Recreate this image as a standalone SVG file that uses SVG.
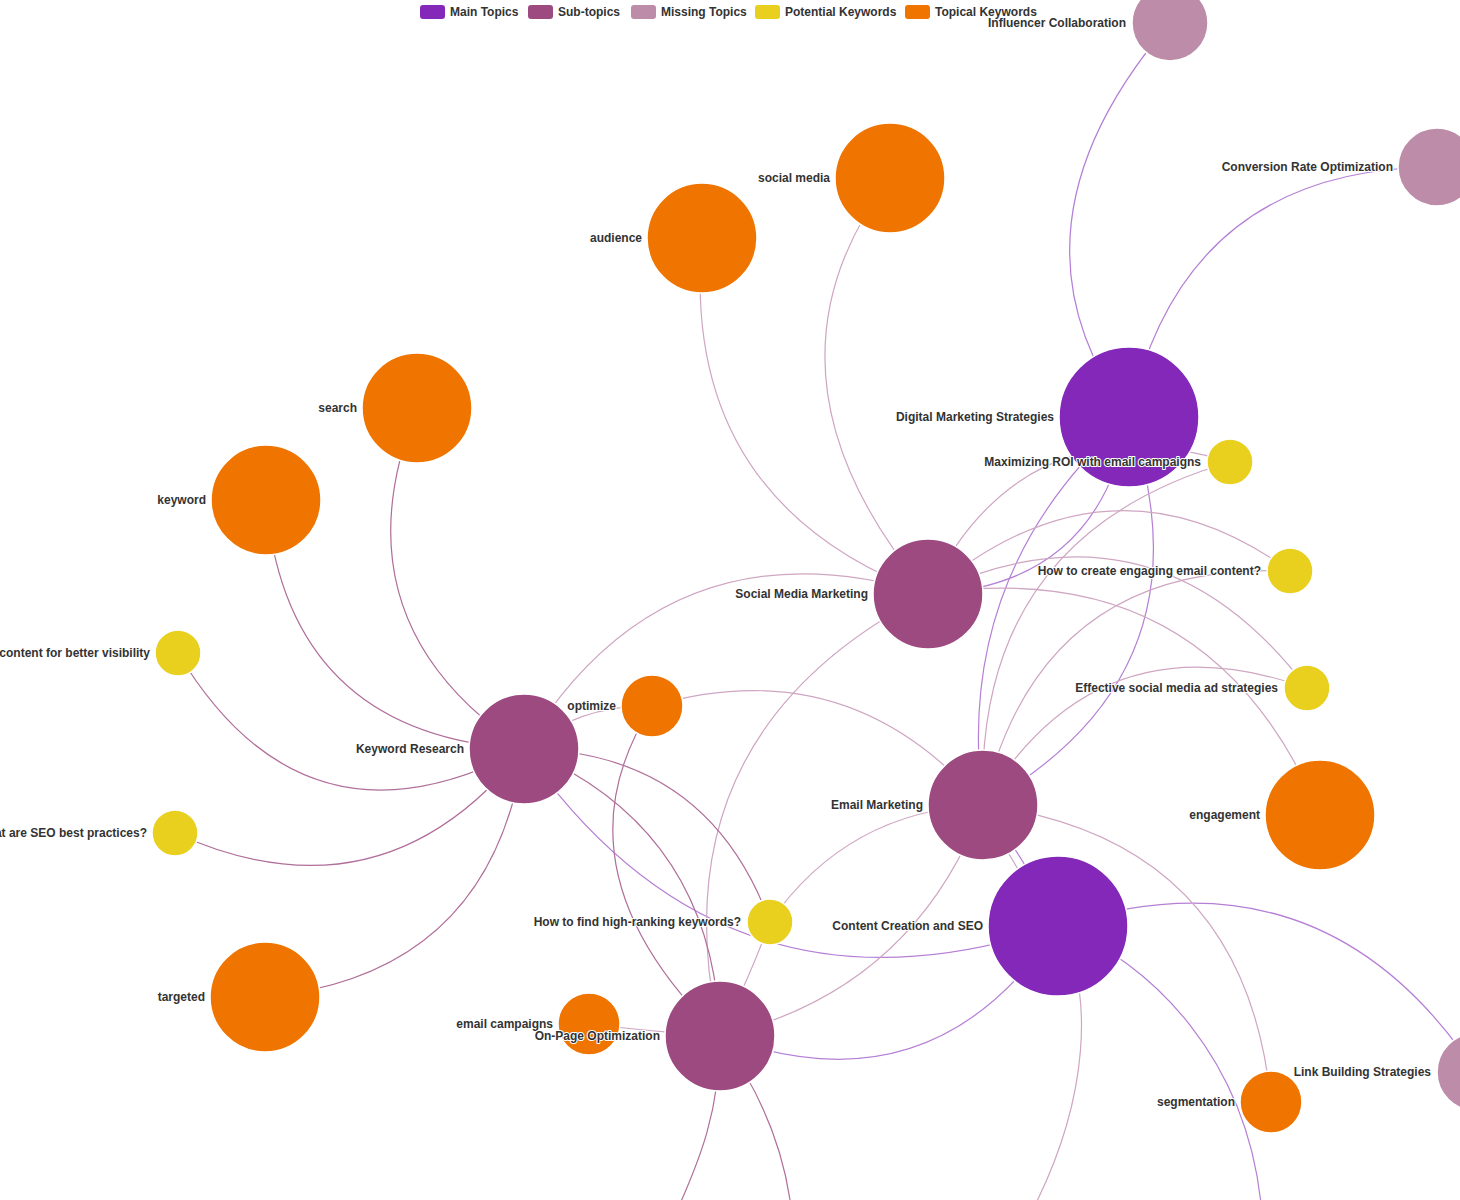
<svg xmlns="http://www.w3.org/2000/svg" width="1460" height="1200" viewBox="0 0 1460 1200">
<style>
.bg{fill:#ffffff}
.lnk path{fill:none;stroke-width:1.2}
.lm{stroke:#B57FD5}
.ls{stroke:#CFA6C2}
.lk{stroke:#B06E9A}
circle{stroke:#ffffff;stroke-width:1.5}
.main{fill:#8428B9}
.sub{fill:#9C4A80}
.miss{fill:#BC8CA8}
.pot{fill:#E9CF1E}
.top{fill:#F07500}
.lbl{font-family:"Liberation Sans",Arial,sans-serif;font-weight:bold;font-size:12px;fill:#333333;text-anchor:end;stroke:#ffffff;stroke-width:2;paint-order:stroke;stroke-linejoin:round}
.leg text{font-family:"Liberation Sans",Arial,sans-serif;font-weight:bold;font-size:12px;fill:#333333}
</style>
<rect class="bg" x="0" y="0" width="1460" height="1200"/>
<g id="connectors" class="lnk">
<path class="lm" d="M1170,23 Q992.5,230 1129,417"/>
<path class="lm" d="M1437,167 Q1183,168 1129,417"/>
<path class="lm" d="M1129,417 Q1099.5,586.5 928,594"/>
<path class="lm" d="M1129,417 Q952,573 983,805"/>
<path class="lm" d="M1129,417 Q1218,673 983,805"/>
<path class="lm" d="M524,749 Q725,1038.5 1058,926"/>
<path class="lm" d="M1058,926 Q933,1115 720,1036"/>
<path class="lm" d="M1058,926 Q1323,841 1476,1072"/>
<path class="lm" d="M983,805 Q1027.5,861.3 1058,926"/>
<path class="ls" d="M983,805 Q1013.7,869.7 1058,926"/>
<path class="lm" d="M1058,926 C1150,960 1250,1060 1262,1215"/>
<path class="ls" d="M1058,926 C1095,990 1090,1100 1030,1215"/>
<path class="ls" d="M928,594 Q743,374 890,178"/>
<path class="ls" d="M928,594 Q679,502 702,238"/>
<path class="ls" d="M928,594 Q666,514.5 524,749"/>
<path class="ls" d="M928,594 Q652,735 720,1036"/>
<path class="ls" d="M928,594 Q1023,400 1230,462"/>
<path class="ls" d="M928,594 Q1109,439.5 1290,571"/>
<path class="ls" d="M928,594 Q1154.5,487 1307,688"/>
<path class="ls" d="M928,594 Q1210,551.5 1320,815"/>
<path class="ls" d="M983,805 Q973.5,536.5 1230,462"/>
<path class="ls" d="M983,805 Q1039.5,560 1290,571"/>
<path class="ls" d="M983,805 Q1097,613.5 1307,688"/>
<path class="ls" d="M983,805 Q848.5,648.5 652,706"/>
<path class="ls" d="M983,805 Q847.5,810.5 770,922"/>
<path class="ls" d="M983,805 Q912.5,991.5 720,1036"/>
<path class="ls" d="M983,805 Q1245,838.5 1271,1102"/>
<path class="ls" d="M524,749 Q580,704.5 652,706"/>
<path class="ls" d="M770,922 Q749,979 720,1036"/>
<path class="ls" d="M589,1024 Q654.5,1032 720,1036"/>
<path class="lk" d="M524,749 Q331.5,621.5 417,408"/>
<path class="lk" d="M524,749 Q287,735.5 266,500"/>
<path class="lk" d="M524,749 Q305,865 178,653"/>
<path class="lk" d="M524,749 Q382.5,927 175,833"/>
<path class="lk" d="M524,749 Q491.5,975 265,997"/>
<path class="lk" d="M524,749 Q707,750.5 770,922"/>
<path class="lk" d="M524,749 Q714,827.5 720,1036"/>
<path class="lk" d="M652,706 Q548,869 720,1036"/>
<path class="lk" d="M720,1036 C720,1110 700,1160 675,1215"/>
<path class="lk" d="M720,1036 C760,1090 785,1150 792,1215"/>
</g>
<g id="node-influencer-collaboration"><circle class="miss" cx="1170" cy="23" r="38"/><text class="lbl" x="1126" y="27">Influencer Collaboration</text></g>
<g id="node-conversion-rate-optimization"><circle class="miss" cx="1437" cy="167" r="39"/><text class="lbl" x="1393" y="171">Conversion Rate Optimization</text></g>
<g id="node-digital-marketing-strategies"><circle class="main" cx="1129" cy="417" r="70"/><text class="lbl" x="1054" y="421">Digital Marketing Strategies</text></g>
<g id="node-maximizing-roi"><circle class="pot" cx="1230" cy="462" r="23"/><text class="lbl" x="1201" y="466">Maximizing ROI with email campaigns</text></g>
<g id="node-engaging-email-content"><circle class="pot" cx="1290" cy="571" r="23"/><text class="lbl" x="1261" y="575">How to create engaging email content?</text></g>
<g id="node-social-media-ad-strategies"><circle class="pot" cx="1307" cy="688" r="23"/><text class="lbl" x="1278" y="692">Effective social media ad strategies</text></g>
<g id="node-social-media"><circle class="top" cx="890" cy="178" r="55"/><text class="lbl" x="830" y="182">social media</text></g>
<g id="node-audience"><circle class="top" cx="702" cy="238" r="55"/><text class="lbl" x="642" y="242">audience</text></g>
<g id="node-social-media-marketing"><circle class="sub" cx="928" cy="594" r="55"/><text class="lbl" x="868" y="598">Social Media Marketing</text></g>
<g id="node-search"><circle class="top" cx="417" cy="408" r="55"/><text class="lbl" x="357" y="412">search</text></g>
<g id="node-keyword"><circle class="top" cx="266" cy="500" r="55"/><text class="lbl" x="206" y="504">keyword</text></g>
<g id="node-better-visibility"><circle class="pot" cx="178" cy="653" r="23"/><text class="lbl" x="150" y="657">content for better visibility</text></g>
<g id="node-seo-best-practices"><circle class="pot" cx="175" cy="833" r="23"/><text class="lbl" x="147" y="837">What are SEO best practices?</text></g>
<g id="node-keyword-research"><circle class="sub" cx="524" cy="749" r="55"/><text class="lbl" x="464" y="753">Keyword Research</text></g>
<g id="node-optimize"><circle class="top" cx="652" cy="706" r="31"/><text class="lbl" x="616" y="710">optimize</text></g>
<g id="node-email-marketing"><circle class="sub" cx="983" cy="805" r="55"/><text class="lbl" x="923" y="809">Email Marketing</text></g>
<g id="node-engagement"><circle class="top" cx="1320" cy="815" r="55"/><text class="lbl" x="1260" y="819">engagement</text></g>
<g id="node-content-creation-seo"><circle class="main" cx="1058" cy="926" r="70"/><text class="lbl" x="983" y="930">Content Creation and SEO</text></g>
<g id="node-high-ranking-keywords"><circle class="pot" cx="770" cy="922" r="23"/><text class="lbl" x="741" y="926">How to find high-ranking keywords?</text></g>
<g id="node-email-campaigns"><circle class="top" cx="589" cy="1024" r="31"/><text class="lbl" x="553" y="1028">email campaigns</text></g>
<g id="node-on-page-optimization"><circle class="sub" cx="720" cy="1036" r="55"/><text class="lbl" x="660" y="1040">On-Page Optimization</text></g>
<g id="node-targeted"><circle class="top" cx="265" cy="997" r="55"/><text class="lbl" x="205" y="1001">targeted</text></g>
<g id="node-segmentation"><circle class="top" cx="1271" cy="1102" r="31"/><text class="lbl" x="1235" y="1106">segmentation</text></g>
<g id="node-link-building-strategies"><circle class="miss" cx="1476" cy="1072" r="39"/><text class="lbl" x="1431" y="1076">Link Building Strategies</text></g>
<g id="legend" class="leg">
<rect class="main" x="420" y="5" width="25" height="14" rx="3"/><text x="450" y="16">Main Topics</text>
<rect class="sub" x="528" y="5" width="25" height="14" rx="3"/><text x="558" y="16">Sub-topics</text>
<rect class="miss" x="631" y="5" width="25" height="14" rx="3"/><text x="661" y="16">Missing Topics</text>
<rect class="pot" x="755" y="5" width="25" height="14" rx="3"/><text x="785" y="16">Potential Keywords</text>
<rect class="top" x="905" y="5" width="25" height="14" rx="3"/><text x="935" y="16">Topical Keywords</text>
</g>
</svg>
